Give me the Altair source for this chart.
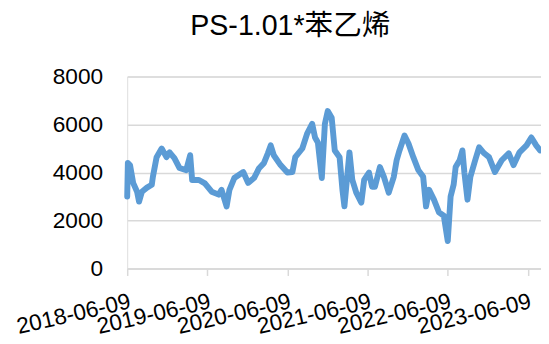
import altair as alt
import pandas as pd

dates = [
    "2018-06-09", "2018-06-12", "2018-06-22", "2018-07-06", "2018-07-24", "2018-08-02",
    "2018-08-15", "2018-09-07", "2018-09-29", "2018-10-04", "2018-10-21", "2018-11-13",
    "2018-12-05", "2018-12-19", "2019-01-10", "2019-02-02", "2019-03-05", "2019-03-23",
    "2019-04-01", "2019-05-02", "2019-05-29", "2019-06-29", "2019-07-31", "2019-08-13",
    "2019-09-05", "2019-09-18", "2019-10-10", "2019-11-20", "2019-12-12", "2020-01-08",
    "2020-01-31", "2020-02-22", "2020-03-11", "2020-03-24", "2020-04-07", "2020-05-08",
    "2020-06-08", "2020-07-01", "2020-07-14", "2020-08-15", "2020-09-06", "2020-09-29",
    "2020-10-12", "2020-10-25", "2020-11-12", "2020-11-26", "2020-12-09", "2020-12-27",
    "2021-01-10", "2021-02-01", "2021-02-14", "2021-02-23", "2021-03-18", "2021-03-31",
    "2021-04-18", "2021-05-11", "2021-05-24", "2021-06-15", "2021-06-29", "2021-07-12",
    "2021-08-04", "2021-08-22", "2021-09-13", "2021-10-06", "2021-10-19", "2021-11-01",
    "2021-11-24", "2021-12-12", "2022-01-03", "2022-01-26", "2022-02-17", "2022-03-02",
    "2022-03-16", "2022-04-07", "2022-04-30", "2022-05-22", "2022-06-09", "2022-06-22",
    "2022-07-06", "2022-07-15", "2022-08-02", "2022-08-15", "2022-08-24", "2022-09-07",
    "2022-09-20", "2022-10-12", "2022-10-30", "2022-11-22", "2022-12-14", "2023-01-10",
    "2023-02-10", "2023-03-14", "2023-04-05", "2023-05-02", "2023-06-03", "2023-06-25",
    "2023-07-17", "2023-08-04",
]
values = [
    3000, 4400, 4300, 3570, 3200, 2790,
    3200, 3370, 3490, 3820, 4640, 5000,
    4640, 4840, 4600, 4190, 4100, 4720,
    3690, 3690, 3550, 3200, 3080, 3280,
    2590, 3280, 3770, 4020, 3570, 3770,
    4180, 4390, 4800, 5130, 4720, 4310,
    4000, 4020, 4640, 5000, 5620, 6030,
    5460, 5250, 3770, 6030, 6560, 6280,
    4920, 4640, 3280, 2590, 4840, 3690,
    3160, 2750, 3690, 4000, 3410, 3410,
    4230, 3820, 3160, 3820, 4510, 4920,
    5540, 5210, 4640, 4100, 3820, 2590,
    3280, 2870, 2340, 2200, 1150, 3000,
    3500, 4230, 4510, 4920, 3980, 2870,
    3820, 4510, 5050, 4800, 4640, 4020,
    4510, 4800, 4310, 4840, 5130, 5460,
    5130, 4920,
]
tick_years = [2018, 2019, 2020, 2021, 2022, 2023]
y_ticks = [0, 2000, 4000, 6000, 8000]
title_text = "PS-1.01*苯乙烯"

df = pd.DataFrame({"date": [d + "T00:00:00" for d in dates], "value": values})

FONT = "Liberation Sans, Noto Sans CJK SC"

chart = alt.Chart(df).mark_line(
    color="#5B9BD5", strokeWidth=6, strokeJoin="round", strokeCap="round"
).encode(
    x=alt.X(
        "date:T",
        scale=alt.Scale(
            domain=[alt.DateTime(year=2018, month=6, date=9),
                    alt.DateTime(year=2023, month=8, date=8)],
            nice=False,
        ),
        axis=alt.Axis(
            values=[alt.DateTime(year=y, month=6, date=9) for y in tick_years],
            format="%Y-%m-%d",
            labelAngle=-13,
            labelAlign="right",
            labelBaseline="top",
            labelFontSize=23,
            labelFont=FONT,
            labelColor="black",
            labelOverlap=False,
            labelFlush=False,
            labelPadding=15,
            tickSize=7,
            tickColor="#d9d9d9",
            tickWidth=1.5,
            domainColor="#d9d9d9",
            domainWidth=1.5,
            grid=False,
            title=None,
        ),
    ),
    y=alt.Y(
        "value:Q",
        scale=alt.Scale(domain=[0, 8000]),
        axis=alt.Axis(
            values=y_ticks,
            format="d",
            labelFontSize=23,
            labelFont=FONT,
            labelColor="black",
            labelPadding=25,
            domain=False,
            ticks=False,
            gridColor="#d9d9d9",
            gridWidth=1.5,
            title=None,
        ),
    ),
).properties(
    width=420,
    height=195,
    autosize=alt.AutoSizeParams(type="none"),
    padding={"left": 121, "top": 67, "right": 0, "bottom": 70},
    title=alt.TitleParams(
        title_text,
        font=FONT,
        fontSize=29,
        fontWeight="normal",
        color="black",
        anchor="start",
        frame="group",
        dx=64,
        offset=2,
        baseline="alphabetic",
    ),
).configure_view(stroke=None).configure(background="white")

chart.save("out.html", embed_options={"renderer": "svg", "actions": False})
